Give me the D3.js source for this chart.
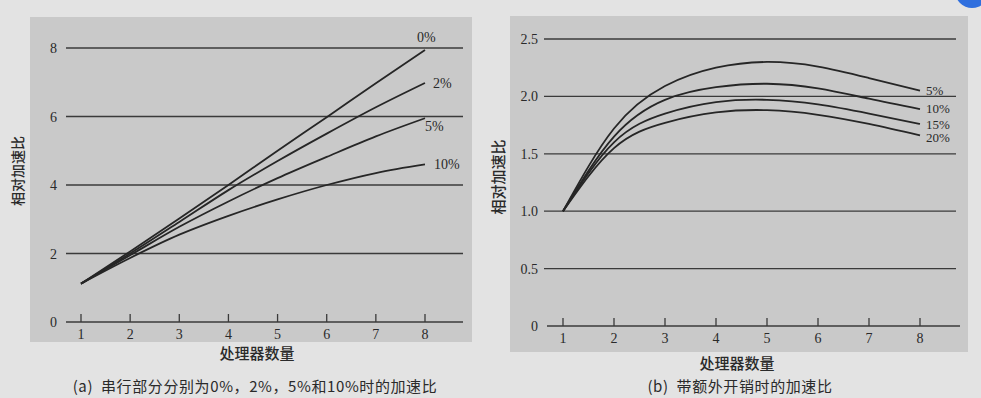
<!DOCTYPE html>
<html>
<head>
<meta charset="utf-8">
<script src="https://cdn.jsdelivr.net/npm/d3@7/dist/d3.min.js"></script>
<style>
  body { margin: 0; background: #e3e3e3; }
  svg { display: block; }
  .num { font-family: "Liberation Serif", "DejaVu Serif", serif; fill: #2a2a2a; }
  .cjk { font-family: "Noto Sans CJK SC", sans-serif; fill: #2a2a2a; }
</style>
</head>
<body>
<svg id="chart" width="981" height="398"></svg>
<script>
// processor counts (x axis for both panels)
var procs = [1, 2, 3, 4, 5, 6, 7, 8];

// (a) speedup with serial fraction 0%, 2%, 5%, 10%
var serialNames = ["0%", "2%", "5%", "10%"];
var speedup0  = [1.12, 2.06, 3.02, 4.0, 5.0, 5.98, 6.97, 7.94];
var speedup2  = [1.12, 2.0, 2.92, 3.85, 4.7, 5.5, 6.27, 6.98];
var speedup5  = [1.12, 1.95, 2.78, 3.52, 4.2, 4.82, 5.42, 5.95];
var speedup10 = [1.12, 1.87, 2.55, 3.1, 3.58, 4.0, 4.35, 4.6];
var yTicksA = [0, 2, 4, 6, 8];

// (b) speedup with extra overhead
var overheadNames = ["5%", "10%", "15%", "20%"];
var over5  = [1.0, 1.72, 2.09, 2.25, 2.30, 2.26, 2.16, 2.05];
var over10 = [1.0, 1.65, 1.97, 2.08, 2.11, 2.07, 1.98, 1.89];
var over15 = [1.0, 1.60, 1.85, 1.95, 1.97, 1.93, 1.85, 1.76];
var over20 = [1.0, 1.55, 1.77, 1.86, 1.88, 1.84, 1.76, 1.66];
var yTicksB = [0, 0.5, 1.0, 1.5, 2.0, 2.5];

var xTitle = "处理器数量";
var yTitle = "相对加速比";
var captionA = "(a)  串行部分分别为0%，2%，5%和10%时的加速比";
var captionB = "(b)  带额外开销时的加速比";

var svg = d3.select("#chart");

// little blue badge in the top right corner of the screenshot
svg.append("circle").attr("cx", 972).attr("cy", -9).attr("r", 17).attr("fill", "#2f6fde");

function drawPanel(cfg) {
  var g = svg.append("g");

  g.append("rect")
    .attr("x", cfg.box[0]).attr("y", cfg.box[1])
    .attr("width", cfg.box[2]).attr("height", cfg.box[3])
    .attr("fill", "#c9c9c9");

  var x = d3.scaleLinear().domain([1, 8]).range(cfg.xRange);
  var y = d3.scaleLinear().domain(cfg.yDomain).range(cfg.yRange);

  // horizontal grid lines
  g.selectAll(".grid")
    .data(cfg.yTicks.filter(function(d) { return d > 0; }))
    .enter().append("line")
      .attr("x1", cfg.gridX[0]).attr("x2", cfg.gridX[1])
      .attr("y1", function(d) { return y(d); })
      .attr("y2", function(d) { return y(d); })
      .attr("stroke", "#3a3a3a").attr("stroke-width", 1.3);

  // x axis line + ticks pointing up
  g.append("line")
    .attr("x1", cfg.axisX[0]).attr("x2", cfg.axisX[1])
    .attr("y1", y(0)).attr("y2", y(0))
    .attr("stroke", "#3a3a3a").attr("stroke-width", 1.5);

  g.selectAll(".tick")
    .data(procs)
    .enter().append("line")
      .attr("x1", function(d) { return x(d); })
      .attr("x2", function(d) { return x(d); })
      .attr("y1", y(0)).attr("y2", y(0) - 8)
      .attr("stroke", "#3a3a3a").attr("stroke-width", 1.3);

  g.selectAll(".xlab")
    .data(procs)
    .enter().append("text")
      .attr("class", "num")
      .attr("x", function(d) { return x(d); })
      .attr("y", y(0) + 17)
      .attr("text-anchor", "middle")
      .attr("font-size", 14)
      .text(function(d) { return d; });

  g.selectAll(".ylab")
    .data(cfg.yTicks)
    .enter().append("text")
      .attr("class", "num")
      .attr("x", cfg.yLabelX)
      .attr("y", function(d) { return y(d) + 5; })
      .attr("text-anchor", "end")
      .attr("font-size", 14)
      .text(cfg.yFormat);

  // curves
  var line = d3.line()
    .x(function(d, i) { return x(procs[i]); })
    .y(function(d) { return y(d); })
    .curve(cfg.curve);

  g.selectAll(".curve")
    .data(cfg.series)
    .enter().append("path")
      .attr("d", function(d) { return line(d); })
      .attr("fill", "none")
      .attr("stroke", "#262626")
      .attr("stroke-width", 1.8);

  g.selectAll(".slab")
    .data(cfg.series)
    .enter().append("text")
      .attr("class", "num")
      .attr("x", function(d, i) { return x(8) + cfg.labelOff[i][0]; })
      .attr("y", function(d, i) { return y(d[d.length - 1]) + cfg.labelOff[i][1]; })
      .attr("text-anchor", "start")
      .attr("font-size", cfg.labelSize)
      .text(function(d, i) { return cfg.names[i]; });

  // titles
  g.append("text")
    .attr("class", "cjk")
    .attr("x", cfg.xTitlePos[0]).attr("y", cfg.xTitlePos[1])
    .attr("text-anchor", "middle")
    .attr("font-size", 15).attr("font-weight", 500)
    .text(xTitle);

  g.append("text")
    .attr("class", "cjk")
    .attr("transform", "translate(" + cfg.yTitlePos[0] + "," + cfg.yTitlePos[1] + ") rotate(-90)")
    .attr("text-anchor", "middle")
    .attr("font-size", cfg.yTitleSize).attr("font-weight", 500)
    .text(yTitle);

  g.append("text")
    .attr("class", "cjk")
    .attr("x", cfg.captionPos[0]).attr("y", cfg.captionPos[1])
    .attr("text-anchor", "middle")
    .attr("font-size", 15)
    .attr("letter-spacing", 0.6)
    .style("white-space", "pre")
    .text(cfg.caption);
}

drawPanel({
  box: [30, 17, 442, 325],
  xRange: [81, 425],
  yDomain: [0, 8], yRange: [322, 48],
  gridX: [66, 463], axisX: [66, 463],
  yTicks: yTicksA, yLabelX: 57,
  yFormat: function(d) { return d; },
  series: [speedup0, speedup2, speedup5, speedup10],
  names: serialNames,
  curve: d3.curveMonotoneX,
  labelSize: 14,
  labelOff: [[-8, -8], [8, 5], [0, 13], [9, 5]],
  xTitlePos: [257, 359],
  yTitleSize: 14,
  yTitlePos: [23, 171],
  captionPos: [255, 392],
  caption: captionA
});

drawPanel({
  box: [510, 16, 458, 336],
  xRange: [563, 920],
  yDomain: [0, 2.5], yRange: [326, 39],
  gridX: [544, 956], axisX: [547, 960],
  yTicks: yTicksB, yLabelX: 538,
  yFormat: function(d) { return d === 0 ? "0" : d3.format(".1f")(d); },
  series: [over5, over10, over15, over20],
  names: overheadNames,
  curve: d3.curveNatural,
  labelSize: 13,
  labelOff: [[6, 4], [6, 4], [6, 5], [6, 7]],
  xTitlePos: [737, 369],
  yTitleSize: 15,
  yTitlePos: [504, 177],
  captionPos: [740, 392],
  caption: captionB
});
</script>
</body>
</html>
